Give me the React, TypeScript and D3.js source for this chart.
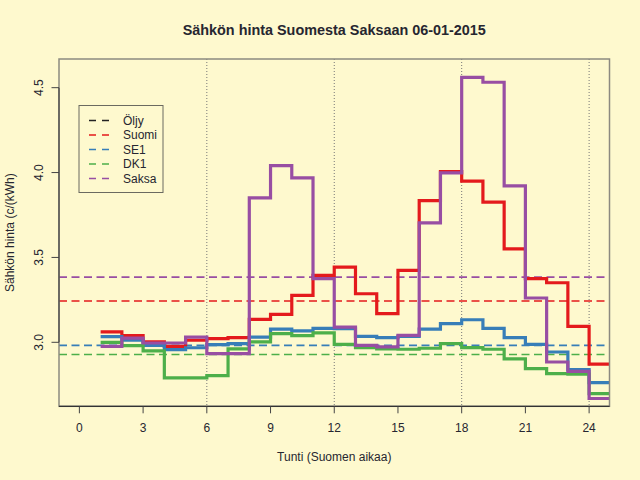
import React from "react";
import * as d3 from "d3";

const hours = d3.range(1, 25);
const suomi = [3.061, 3.039, 3.002, 2.976, 3.012, 3.022, 3.028, 3.135, 3.165, 3.276, 3.394, 3.443, 3.286, 3.169, 3.424, 3.835, 4.006, 3.949, 3.826, 3.551, 3.375, 3.351, 3.094, 2.871];
const se1 = [3.033, 3.012, 2.982, 2.957, 2.968, 2.986, 2.992, 3.031, 3.078, 3.067, 3.082, 3.080, 3.035, 3.028, 3.035, 3.078, 3.110, 3.133, 3.082, 3.028, 2.988, 2.943, 2.839, 2.763];
const dk1 = [3.000, 2.980, 2.949, 2.790, 2.790, 2.804, 2.961, 3.002, 3.051, 3.039, 3.055, 2.988, 2.969, 2.961, 2.959, 2.965, 2.992, 2.969, 2.959, 2.902, 2.845, 2.816, 2.812, 2.698];
const saksa = [2.976, 3.025, 2.996, 2.996, 3.031, 2.933, 2.933, 3.851, 4.041, 3.969, 3.375, 3.090, 2.982, 2.973, 3.041, 3.704, 3.998, 4.561, 4.532, 3.922, 3.261, 2.884, 2.829, 2.669];

const legendNames = ["Öljy", "Suomi", "SE1", "DK1", "Saksa"];
const legendColors = ["#222222", "#E41A1C", "#377EB8", "#4DAF4A", "#984EA3"];
const levelValues = [3.384, 3.243, 2.982, 2.928]; // Saksa, Suomi, SE1, DK1
const levelColors = ["#984EA3", "#E41A1C", "#377EB8", "#4DAF4A"];
const xTicks = [0, 3, 6, 9, 12, 15, 18, 21, 24];
const yTicks = [3.0, 3.5, 4.0, 4.5];
const vLines = [6, 12, 18, 24];

const seriesList = [
  { values: suomi, color: "#E41A1C" },
  { values: se1, color: "#377EB8" },
  { values: dk1, color: "#4DAF4A" },
  { values: saksa, color: "#984EA3" },
];

const W = 640, H = 480;
const L = 59, R = 609.5, T = 59, B = 406.3;
const font = "'Liberation Sans', Arial, Helvetica, sans-serif";
const textCol = "#262630";

export default function App() {
  const x = d3.scaleLinear().domain([-0.96, 24.96]).range([L, R]);
  const y = d3.scaleLinear().domain([2.623, 4.669]).range([B, T]);
  const line = d3
    .line<[number, number]>()
    .x((d) => x(d[0]))
    .y((d) => y(d[1]))
    .curve(d3.curveStepAfter);

  const pts = (vals: number[]): [number, number][] => {
    const p: [number, number][] = hours.map((h, i) => [h, vals[i]]);
    p.push([25, vals[vals.length - 1]]);
    return p;
  };

  return (
    <svg width={W} height={H} style={{ position: "absolute", left: 0, top: 0 }} fontFamily={font}>
      <rect x={0} y={0} width={W} height={H} fill="#FEF9CE" />
      <defs>
        <clipPath id="plotclip">
          <rect x={L} y={T} width={R - L} height={B - T} />
        </clipPath>
      </defs>
      {/* title */}
      <text x={(L + R) / 2} y={35} textAnchor="middle" fontWeight="bold" fontSize={14.4} fill={textCol}>
        Sähkön hinta Suomesta Saksaan 06-01-2015
      </text>
      {/* vertical dotted lines */}
      {vLines.map((v) => (
        <line key={v} x1={x(v)} x2={x(v)} y1={T} y2={B} stroke="#777" strokeWidth={1} strokeDasharray="1,2" />
      ))}
      {/* level lines */}
      {levelValues.map((v, i) => (
        <line key={i} x1={L} x2={R} y1={y(v)} y2={y(v)} stroke={levelColors[i]} strokeWidth={1.6} strokeDasharray="8,4.5" />
      ))}
      {/* series */}
      <g clipPath="url(#plotclip)">
        {seriesList.map((s, i) => (
          <path key={i} d={line(pts(s.values)) || ""} fill="none" stroke={s.color} strokeWidth={3.2} strokeLinejoin="miter" strokeLinecap="butt" />
        ))}
      </g>
      {/* box */}
      <rect x={L} y={T} width={R - L} height={B - T} fill="none" stroke="#8c8a80" strokeWidth={1.5} />
      {/* x axis */}
      <line x1={L} x2={R} y1={B} y2={B} stroke="#333" strokeWidth={1.2} />
      {xTicks.map((t) => (
        <g key={t}>
          <line x1={x(t)} x2={x(t)} y1={B} y2={B + 7} stroke="#444" strokeWidth={1} />
          <text x={x(t)} y={432} textAnchor="middle" fontSize={12} fill={textCol}>
            {t}
          </text>
        </g>
      ))}
      {/* y axis */}
      <line x1={L} x2={L} y1={y(3.0)} y2={y(4.5)} stroke="#444" strokeWidth={1.2} />
      {yTicks.map((t) => (
        <g key={t}>
          <line x1={L - 7.5} x2={L} y1={y(t)} y2={y(t)} stroke="#444" strokeWidth={1} />
          <text
            transform={`translate(${43},${y(t)}) rotate(-90)`}
            textAnchor="middle"
            fontSize={12}
            fill={textCol}
          >
            {t.toFixed(1)}
          </text>
        </g>
      ))}
      {/* axis labels */}
      <text x={(L + R) / 2} y={461} textAnchor="middle" fontSize={12} fill={textCol}>
        Tunti (Suomen aikaa)
      </text>
      <text transform={`translate(14,${(T + B) / 2}) rotate(-90)`} textAnchor="middle" fontSize={12} fill={textCol}>
        Sähkön hinta (c/(kWh)
      </text>
      {/* legend */}
      <rect x={79} y={105.5} width={84} height={87} fill="#FEF9CE" stroke="#6b6a60" strokeWidth={1} />
      {legendNames.map((n, i) => {
        const ly = 120.5 + i * 14.5;
        return (
          <g key={n}>
            <line x1={89} x2={109} y1={ly} y2={ly} stroke={legendColors[i]} strokeWidth={1.6} strokeDasharray="7,6" />
            <text x={123} y={ly + 4.3} fontSize={12} fill={textCol}>
              {n}
            </text>
          </g>
        );
      })}
    </svg>
  );
}
